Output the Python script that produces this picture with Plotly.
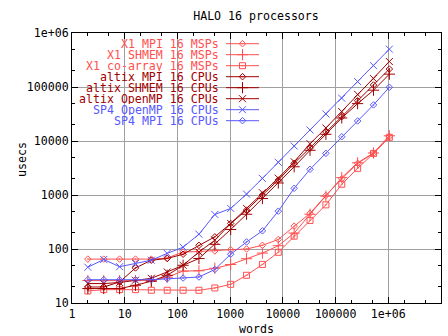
import plotly.graph_objects as go

words = [2, 4, 8, 16, 32, 64, 128, 256, 512, 1024, 2048, 4096, 8192, 16384,
         32768, 65536, 131072, 262144, 524288, 1048576]

x1_mpi = [65, 65, 65, 65, 65, 68, 88, 90, 92, 97, 100, 117, 150, 265, 458, 980, 2000, 3860, 5900, 12000]
x1_shmem = [26, 26, 26, 26, 26, 30, 39, 39.5, 44, 51.5, 66, 84, 115, 197, 440, 950, 2100, 3950, 6000, 12500]
x1_coarray = [16.7, 17.7, 17.7, 17.7, 17.2, 17.2, 17.2, 17.2, 19, 22.2, 32.6, 51.8, 87, 173, 338, 657, 1580, 3120, 5880, 11700]
altix_mpi = [19.8, 19.8, 24.5, 44.6, 62, 66.6, 80, 117, 168, 297, 525, 1000, 1890, 3860, 7400, 14700, 28200, 55700, 109000, 215000]
altix_shmem = [18.5, 18.5, 18.5, 21.3, 25.3, 32.6, 50, 66.6, 122, 230, 440, 860, 1670, 3330, 6730, 13300, 26700, 49200, 87300, 173000]
altix_openmp = [22.9, 22.9, 24, 26.4, 28.7, 37.6, 50, 88, 145, 297, 565, 1100, 2050, 4130, 8900, 17400, 35000, 73000, 143000, 296000]
sp4_openmp = [46, 64, 47, 54, 62, 83, 108, 188, 436, 564, 1040, 2030, 4030, 8070, 16000, 31700, 62000, 126000, 249000, 502000]
sp4_mpi = [27, 27, 27, 27, 27, 28, 29, 30.3, 41.7, 80, 135, 217, 502, 1330, 2990, 5910, 12000, 23500, 46600, 99000]

names = ["X1 MPI 16 MSPs", "X1 SHMEM 16 MSPs", "X1 co-array 16 MSPs",
         "altix MPI 16 CPUs", "altix SHMEM 16 CPUs", "altix OpenMP 16 CPUs",
         "SP4 OpenMP 16 CPUs", "SP4 MPI 16 CPUs"]
series = [x1_mpi, x1_shmem, x1_coarray, altix_mpi, altix_shmem, altix_openmp, sp4_openmp, sp4_mpi]

LIGHT, DARK, BLUE = "#ff5050", "#a00000", "#5858ff"
colors = [LIGHT, LIGHT, LIGHT, DARK, DARK, DARK, BLUE, BLUE]
symbols = ["diamond-open-dot", "cross-thin-open", "square-open-dot", "diamond-open-dot",
           "cross-thin-open", "x-thin-open", "x-thin-open", "diamond-open-dot"]
sizes = [5, 8, 6, 5, 8, 7, 7, 5]

xticks = [1, 10, 100, 1000, 10000, 100000, 1000000, 10000000]
xticktext = ["1", "10", "100", "1000", "10000", "100000", "1e+06", "1e+07"]
yticks = [10, 100, 1000, 10000, 100000, 1000000]
yticktext = ["10", "100", "1000", "10000", "100000", "1e+06"]

W, H = 448, 336
L, R, T, B = 72, 7, 33, 33
pw, ph = W - L - R, H - T - B
FONT = "DejaVu Sans Mono"
FS = 11.6

fig = go.Figure()
for name, vals, c, s, sz in zip(names, series, colors, symbols, sizes):
    fig.add_trace(go.Scatter(x=words, y=vals, mode="lines+markers", name=name,
                             line=dict(color=c, width=1),
                             marker=dict(symbol=s, size=sz, color=c, line=dict(color=c, width=1)),
                             showlegend=False))

# custom gnuplot-style key (text right-aligned, sample to the right)
key_text_right = 220
key_x0, key_x1 = 226, 259
key_y0, key_dy = 43.7, 11.0
for i, (name, c, s, sz) in enumerate(zip(names, colors, symbols, sizes)):
    ypx = key_y0 + i * key_dy
    yp = (H - B - ypx) / ph
    fig.add_annotation(x=(key_text_right - L) / pw, y=yp, xref="paper", yref="paper",
                       text=name, showarrow=False, xanchor="right", yanchor="middle",
                       height=10, borderpad=0, valign="middle",
                       font=dict(family=FONT, size=FS, color=c))
    xa, xb = (key_x0 - L) / pw, (key_x1 - L) / pw
    fig.add_trace(go.Scatter(x=[xa, xb], y=[yp, yp], mode="lines", xaxis="x2", yaxis="y2",
                             line=dict(color=c, width=1), showlegend=False, hoverinfo="skip"))
    fig.add_trace(go.Scatter(x=[(xa + xb) / 2], y=[yp], mode="markers", xaxis="x2", yaxis="y2",
                             marker=dict(symbol=s, size=sz, color=c, line=dict(color=c, width=1)),
                             showlegend=False, hoverinfo="skip"))

# white box under the key hiding grid lines
fig.add_shape(type="rect", xref="paper", yref="paper", layer="between",
              x0=0.003, x1=(266 - L) / pw, y0=(H - B - 127) / ph, y1=0.997,
              fillcolor="white", line=dict(width=0))

fig.add_annotation(x=0.5, y=-(329 - (H - B)) / ph, xref="paper", yref="paper", text="words",
                   showarrow=False, font=dict(family=FONT, size=FS, color="black"),
                   xanchor="center", yanchor="middle", height=10, borderpad=0)
fig.add_annotation(x=(13 - L) / pw, y=(H - B - 160) / ph, xref="paper", yref="paper",
                   text="usecs", textangle=-90, showarrow=False,
                   font=dict(family=FONT, size=FS, color="black"))

axis_common = dict(type="log", showline=True, linecolor="black", linewidth=1, mirror="allticks",
                   ticks="inside", ticklen=6, tickcolor="black", tickwidth=1,
                   showgrid=True, gridcolor="#a0a0a0", gridwidth=1, zeroline=False,
                   tickfont=dict(family=FONT, size=FS, color="black"),
                   minor=dict(ticks="inside", ticklen=3, dtick="D2", tickcolor="black", showgrid=False))

fig.update_layout(
    width=W, height=H, margin=dict(l=L, r=R, t=T, b=B),
    paper_bgcolor="white", plot_bgcolor="white",
    title=dict(text="HALO 16 processors", x=(256 - 0) / W, xanchor="center", y=1 - 16 / H,
               yanchor="middle", font=dict(family=FONT, size=FS, color="black")),
    xaxis=dict(range=[0, 7], tickvals=xticks, ticktext=xticktext, **axis_common),
    yaxis=dict(range=[1, 6], tickvals=yticks, ticktext=yticktext, **axis_common),
    xaxis2=dict(range=[0, 1], overlaying="x", visible=False, fixedrange=True),
    yaxis2=dict(range=[0, 1], overlaying="y", visible=False, fixedrange=True),
    showlegend=False,
)

fig.write_html("out.html")
